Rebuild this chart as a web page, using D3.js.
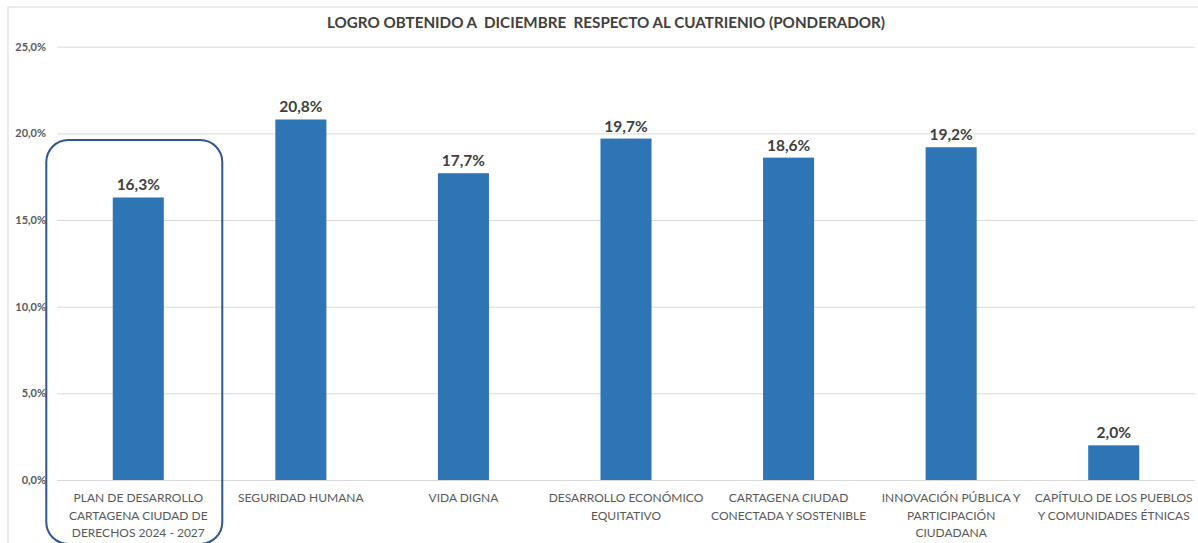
<!DOCTYPE html>
<html>
<head>
<meta charset="utf-8">
<script src="https://cdn.jsdelivr.net/npm/d3@7"></script>
<style>
  html, body { margin: 0; padding: 0; background: #fff; }
  svg { display: block; }
</style>
</head>
<body>
<svg id="chart" width="1198" height="543"></svg>
<script>
const titleText = "LOGRO OBTENIDO A  DICIEMBRE  RESPECTO AL CUATRIENIO (PONDERADOR)";
const categories = [
  "PLAN DE DESARROLLO CARTAGENA CIUDAD DE DERECHOS 2024 - 2027",
  "SEGURIDAD HUMANA",
  "VIDA DIGNA",
  "DESARROLLO ECONÓMICO EQUITATIVO",
  "CARTAGENA CIUDAD CONECTADA Y SOSTENIBLE",
  "INNOVACIÓN PÚBLICA Y PARTICIPACIÓN CIUDADANA",
  "CAPÍTULO DE LOS PUEBLOS Y COMUNIDADES ÉTNICAS"
];
const categoryLines = [
  ["PLAN DE DESARROLLO", "CARTAGENA CIUDAD DE", "DERECHOS 2024 - 2027"],
  ["SEGURIDAD HUMANA"],
  ["VIDA DIGNA"],
  ["DESARROLLO ECONÓMICO", "EQUITATIVO"],
  ["CARTAGENA CIUDAD", "CONECTADA Y SOSTENIBLE"],
  ["INNOVACIÓN PÚBLICA Y", "PARTICIPACIÓN", "CIUDADANA"],
  ["CAPÍTULO DE LOS PUEBLOS", "Y COMUNIDADES ÉTNICAS"]
];
const values = [16.3, 20.8, 17.7, 19.7, 18.6, 19.2, 2.0];
const yTicks = [0, 5, 10, 15, 20, 25];
const highlighted = [0];

(function () {
const svg = d3.select("#chart");
const font = "Lato, 'Open Sans', sans-serif";
const fmt = v => d3.format(".1f")(v).replace(".", ",") + "%";

const pLeft = 57, pRight = 1195, pTop = 46.7, pBottom = 480;

// outer border
svg.append("rect").attr("x", 8).attr("y", 7).attr("width", 1230).attr("height", 600)
  .attr("fill", "none").attr("stroke", "#d9d9d9").attr("stroke-width", 1);

const x = d3.scaleBand().domain(categories).range([pLeft, pRight]).paddingInner(0.686).paddingOuter(0.343);
const y = d3.scaleLinear().domain([0, 25]).range([pBottom, pTop]);

// gridlines + y labels
const yAxis = d3.axisLeft(y).tickValues(yTicks).tickSize(-(pRight - pLeft)).tickFormat(fmt).tickPadding(11);
const gy = svg.append("g").attr("transform", `translate(${pLeft},0)`).call(yAxis);
gy.select(".domain").remove();
gy.selectAll(".tick line").attr("stroke", "#d9d9d9").attr("stroke-width", 1);
gy.selectAll(".tick text").attr("fill", "#595959").attr("font-family", font)
  .attr("font-size", 11).attr("font-weight", 700);

// bars
svg.append("g").selectAll("rect").data(values).join("rect")
  .attr("x", (d, i) => x(categories[i]))
  .attr("y", d => y(d))
  .attr("width", x.bandwidth())
  .attr("height", d => y(0) - y(d))
  .attr("fill", "#2E75B6");

// value labels
svg.append("g").selectAll("text").data(values).join("text")
  .attr("x", (d, i) => x(categories[i]) + x.bandwidth() / 2)
  .attr("y", d => y(d) - 7)
  .attr("text-anchor", "middle")
  .attr("font-family", font).attr("font-size", 15.5).attr("font-weight", 700)
  .attr("fill", "#404040")
  .text(d => fmt(d));

// category labels
const cg = svg.append("g").selectAll("text").data(categoryLines).join("text")
  .attr("text-anchor", "middle")
  .attr("font-family", font).attr("font-size", 12)
  .attr("fill", "#595959");
cg.each(function(lines, i) {
  const cx = x(categories[i]) + x.bandwidth() / 2;
  d3.select(this).selectAll("tspan").data(lines).join("tspan")
    .attr("x", cx).attr("y", (d, j) => 502 + j * 17.5).text(d => d);
});

// highlight box
highlighted.forEach(i => {
  const cx = x(categories[i]) + x.bandwidth() / 2;
  svg.append("rect").attr("x", cx - 92).attr("y", 140).attr("width", 176).attr("height", 404)
    .attr("rx", 22).attr("ry", 22)
    .attr("fill", "none").attr("stroke", "#2F5597").attr("stroke-width", 2);
});

// title
svg.append("text").attr("x", 606).attr("y", 28).attr("text-anchor", "middle")
  .attr("font-family", font).attr("font-size", 15.2).attr("font-weight", 700)
  .attr("fill", "#404040").style("white-space", "pre").text(titleText);
})();
</script>
</body>
</html>
